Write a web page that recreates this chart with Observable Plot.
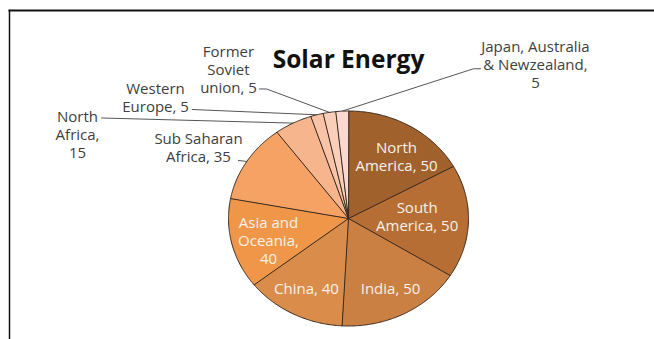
<!DOCTYPE html>
<html><head><meta charset="utf-8">
<script src="https://cdn.jsdelivr.net/npm/d3@7"></script>
<script src="https://cdn.jsdelivr.net/npm/@observablehq/plot@0.6"></script>
<style>body{margin:0;background:#fff}</style>
</head><body><div id="chart"></div>
<script>
// ---- data ----
const title = "Solar Energy";
const categories = ["North America","South America","India","China","Asia and Oceania","Sub Saharan Africa","North Africa","Western Europe","Former Soviet union","Japan, Australia & Newzealand"];
const values = [50,50,50,40,40,35,15,5,5,5];
const labelTexts = ["North\nAmerica, 50","South\nAmerica, 50","India, 50","China, 40","Asia and\nOceania,\n40","Sub Saharan\nAfrica, 35","North\nAfrica,\n15","Western\nEurope, 5","Former\nSoviet\nunion, 5","Japan, Australia\n& Newzealand,\n5"];
const colors = ["#a0612c","#b66e34","#ca8042","#da8d4b","#ef9649","#f5a264","#f6b58c","#f8c3a6","#f9ceba","#fbd9d1"];

// ---- layout (pie-radius units) ----
const labelPos = [[0.40,0.578],[0.572,0.02],[0.35,-0.651],[-0.35,-0.651],[-0.667,-0.205],[-1.25,0.663],[-2.258,0.783],[-1.608,1.13],[-1.0,1.386],[1.558,1.435]];
const inside = [1,1,1,1,1,0,0,0,0,0];
const leaderStart = {5:[[-0.917,0.54]],6:[[-2.058,0.935]],7:[[-1.303,1.014]],8:[[-0.742,1.205],[-0.683,1.205]],9:[[1.10,1.393],[1.042,1.393]]};

const arcs = d3.pie().sort(null).value(d => d)(values);
const slices = [];
arcs.forEach((a, i) => {
  slices.push({cat: categories[i], x: 0, y: 0});
  const n = Math.max(4, Math.ceil((a.endAngle - a.startAngle) / 0.01));
  for (let k = 0; k <= n; k++) {
    const t = a.startAngle + (a.endAngle - a.startAngle) * k / n;
    slices.push({cat: categories[i], x: Math.sin(t), y: Math.cos(t)});
  }
});
const leaders = [];
Object.entries(leaderStart).forEach(([i, pts]) => {
  const a = arcs[+i], m = (a.startAngle + a.endAngle) / 2;
  pts.forEach(p => leaders.push({cat: categories[i], x: p[0], y: p[1]}));
  leaders.push({cat: categories[i], x: Math.sin(m), y: Math.cos(m)});
});
const labels = labelTexts.map((t, i) => ({text: t, x: labelPos[i][0], y: labelPos[i][1], inside: inside[i]}));

const chart = Plot.plot({
  width: 654, height: 339,
  marginLeft: 9, marginTop: 10, marginRight: 0, marginBottom: 0,
  style: {fontFamily: "'Open Sans', sans-serif", background: "#fff"},
  x: {domain: [-1, 1], range: [228, 468], axis: null},
  y: {domain: [-1, 1], range: [325.5, 110.5], axis: null},
  color: {domain: categories, range: colors},
  marks: [
    Plot.frame({anchor: "left", stroke: "#111", strokeWidth: 1.5}),
    Plot.frame({anchor: "top", stroke: "#111", strokeWidth: 2}),
    Plot.line(leaders, {x: "x", y: "y", z: "cat", stroke: "#555", strokeWidth: 1}),
    Plot.line(slices, {x: "x", y: "y", z: "cat", fill: "cat", stroke: "#3a2a1e", strokeWidth: 1, curve: "linear-closed"}),
    Plot.text(labels.filter(d => d.inside), {x: "x", y: "y", text: "text", fill: "#f6f1ea", fontSize: 15, lineHeight: 1.2}),
    Plot.text(labels.filter(d => !d.inside), {x: "x", y: "y", text: "text", fill: "#404040", fontSize: 15, lineHeight: 1.2}),
    Plot.text([title], {x: () => 0, y: () => 1.4726, text: d => d, fill: "#111", fontSize: 24.5, fontWeight: "bold"})
  ]
});
document.getElementById("chart").appendChild(chart);
</script>
</body></html>
